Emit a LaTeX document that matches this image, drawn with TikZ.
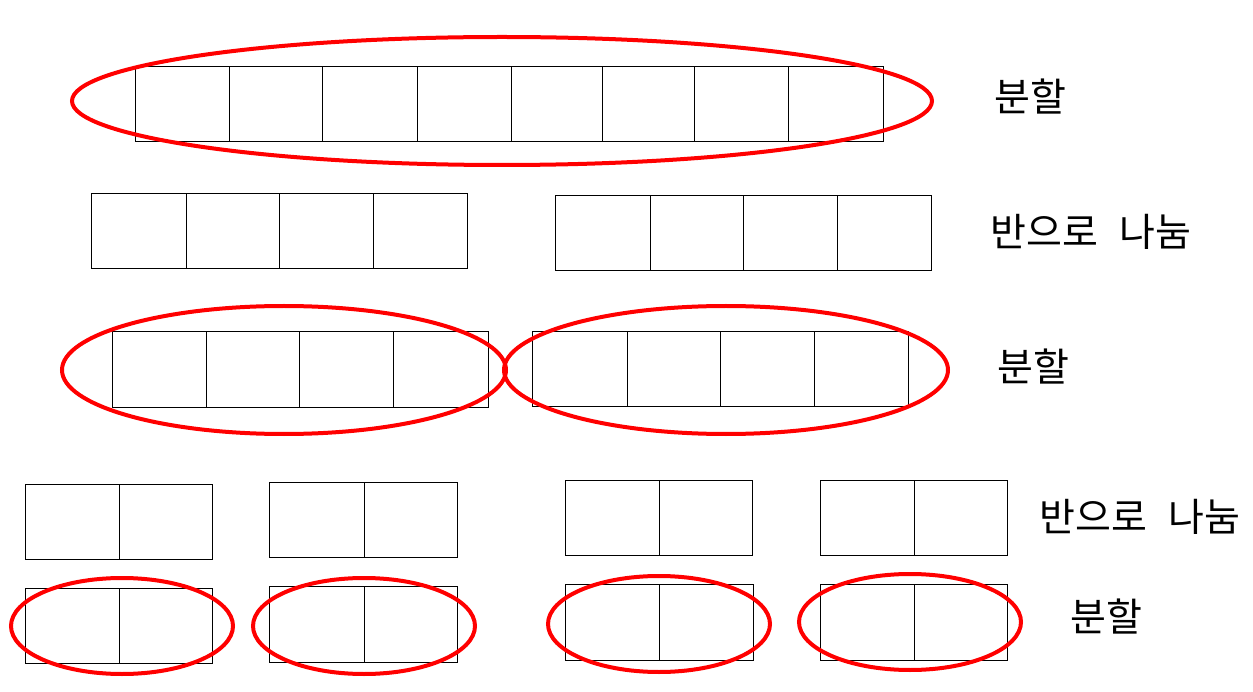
\documentclass[tikz,border=0pt]{standalone}
\usepackage{fontspec}
\newfontfamily\kr{Noto Sans CJK KR}
\begin{document}
\begin{tikzpicture}[x=1pt,y=-1pt,
  box/.style={draw=black,line width=1pt},
  ring/.style={draw=red,line width=4pt},
  lbl/.style={font=\kr\fontsize{39}{44}\selectfont,inner sep=0pt}]
\useasboundingbox[fill=white] (0,0) rectangle (1253,692);
% row 1
\draw[box] (135,67) rectangle (883,142);
\foreach \x in {229,322,417,511,602,694,788} \draw[box] (\x,67) -- (\x,142);
% row 2
\draw[box] (91,194) rectangle (467,269);
\foreach \x in {186,279,373} \draw[box] (\x,194) -- (\x,269);
\draw[box] (555,196) rectangle (931,271);
\foreach \x in {650,743,837} \draw[box] (\x,196) -- (\x,271);
% row 3
\draw[box] (112,332) rectangle (488,408);
\foreach \x in {206,299,393} \draw[box] (\x,332) -- (\x,408);
\draw[box] (532,332) rectangle (908,407);
\foreach \x in {627,720,814} \draw[box] (\x,332) -- (\x,407);
% row 4
\draw[box] (25,484) rectangle (212,559); \draw[box] (119,484) -- (119,559);
\draw[box] (269,482) rectangle (457,557); \draw[box] (364,482) -- (364,557);
\draw[box] (565,480) rectangle (752,555); \draw[box] (659,480) -- (659,555);
\draw[box] (820,480) rectangle (1007,555); \draw[box] (914,480) -- (914,555);
% row 5
\draw[box] (25,588) rectangle (212,663); \draw[box] (119,588) -- (119,663);
\draw[box] (269,586) rectangle (457,662); \draw[box] (364,586) -- (364,662);
\draw[box] (565,584) rectangle (753,660); \draw[box] (659,584) -- (659,660);
\draw[box] (820,584) rectangle (1007,660); \draw[box] (914,584) -- (914,660);
% ellipses
\draw[ring] (502,101) ellipse [x radius=430pt,y radius=64pt];
\draw[ring] (284,370) ellipse [x radius=222pt,y radius=64pt];
\draw[ring] (726,370) ellipse [x radius=222pt,y radius=64pt];
\draw[ring] (122,626) ellipse [x radius=111pt,y radius=48pt];
\draw[ring] (364,626) ellipse [x radius=111pt,y radius=48pt];
\draw[ring] (659,624) ellipse [x radius=111pt,y radius=48pt];
\draw[ring] (910,622) ellipse [x radius=111pt,y radius=48pt];
% labels
\node[lbl] (t1) at (1030,97) {분할};
\node[lbl] (t2) at (1091,232) {반으로\hspace{0.55em}나눔};
\node[lbl] (t3) at (1033,367) {분할};
\node[lbl] (t4) at (1140,517) {반으로\hspace{0.55em}나눔};
\node[lbl] (t5) at (1106,617) {분할};
\end{tikzpicture}
\end{document}
